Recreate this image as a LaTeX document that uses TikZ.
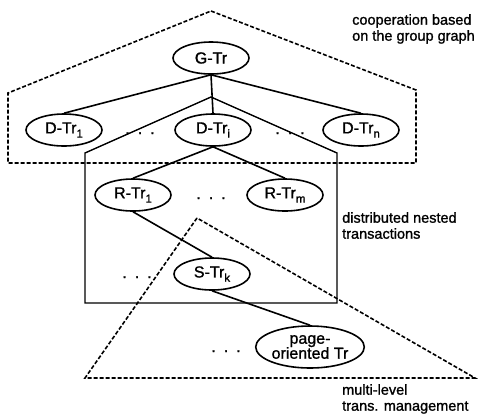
\documentclass[tikz,border=0pt]{standalone}
\usepackage{fontspec}
\setmainfont{Liberation Sans}[RawFeature={embolden=1.2}]
\usetikzlibrary{shapes.geometric}
\newcommand\lowsub[1]{\raisebox{-0.5ex}{\fontsize{11.5}{11.5}\selectfont #1}}
\newcommand\threedots{.\hspace{8pt}.\hspace{8pt}.}
\tikzset{
  tx/.style={ellipse, draw, line width=1.6pt, fill=white, inner sep=0pt,
             minimum width=76pt, minimum height=32pt, font=\fontsize{16}{16}\selectfont},
  link/.style={line width=1.6pt},
  area/.style={line width=1.4pt, line join=miter},
  zone/.style={line width=1.6pt, dash pattern=on 4pt off 2pt},
  dotsnode/.style={inner sep=0pt, anchor=base, font=\fontsize{16}{16}\selectfont},
  caption/.style={inner sep=0pt, anchor=north west, align=left,
                  font=\fontsize{14.5}{16}\selectfont},
}
\begin{document}
\begin{tikzpicture}[x=1pt, y=-1pt]
\path[use as bounding box] (0,0) rectangle (478,416);

% scopes: group graph (dashed), nested transactions (solid), multi-level (dashed)
\coordinate (ga) at (211,11);
\coordinate (gr) at (416,90);
\coordinate (gbr) at (416,163);
\coordinate (gbl) at (8,163);
\coordinate (gl) at (8,93);
\draw[zone] (ga) -- (gr) -- (gbr) -- (gbl) -- (gl) -- cycle;

\coordinate (na) at (211,97);
\coordinate (nl) at (85,153);
\coordinate (nbl) at (85,303);
\coordinate (nbr) at (337,303);
\coordinate (nr) at (337,153);
\draw[area] (na) -- (nl) -- (nbl) -- (nbr) -- (nr) -- cycle;

\coordinate (ma) at (197,218);
\coordinate (ml) at (85,378);
\coordinate (mr) at (475,378);
\draw[zone] (ma) -- (ml) -- (mr) -- cycle;

% transaction nodes
\node[tx] (g)  at (211,58)  {G-Tr};
\node[tx] (d1) at (64,130)  {D-Tr\lowsub{1}};
\node[tx] (di) at (213,130) {D-Tr\lowsub{i}};
\node[tx] (dn) at (361,130) {D-Tr\lowsub{n}};
\node[tx] (r1) at (133,195) {R-Tr\lowsub{1}};
\node[tx] (rm) at (285,195) {R-Tr\lowsub{m}};
\node[tx] (s)  at (212,274) {S-Tr\lowsub{k}};
\node[tx, minimum width=95pt, minimum height=42pt, align=center,
      font=\fontsize{16}{15}\selectfont] (p) at (310,347) {page-\\oriented Tr};

% tree edges
\draw[link] (g.south) -- (d1.north);
\draw[link] (g.south) -- (di.north);
\draw[link] (g.south) -- (dn.north);
\draw[link] (di.south) -- (r1.north);
\draw[link] (di.south) -- (rm.north);
\draw[link] (r1.south) -- (s.north);
\draw[link] (s.south) -- (p.north);

% elisions
\node[dotsnode] (e1) at (140,134) {\threedots};
\node[dotsnode] (e2) at (290,134) {\threedots};
\node[dotsnode] (e3) at (211,199) {\threedots};
\node[dotsnode] (e4) at (137,278) {\threedots};
\node[dotsnode] (e5) at (226,352) {\threedots};

% captions
\node[caption] (c1) at (352,14)  {cooperation based\\on the group graph};
\node[caption] (c2) at (342,212) {distributed nested\\transactions};
\node[caption] (c3) at (342,384) {multi-level\\trans. management};
\end{tikzpicture}
\end{document}
